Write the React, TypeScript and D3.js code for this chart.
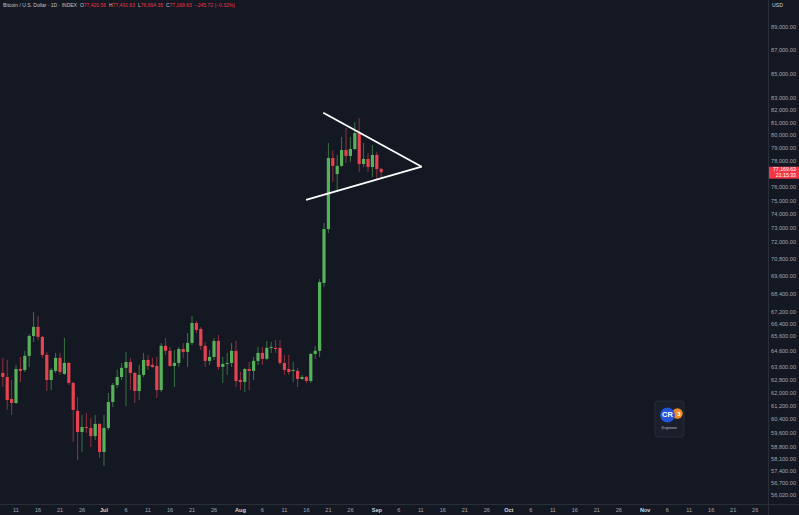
import React from "react";
import * as d3 from "d3";

const dates = [
  "2024-06-07","2024-06-08","2024-06-09","2024-06-10","2024-06-11","2024-06-12","2024-06-13","2024-06-14","2024-06-15","2024-06-16",
  "2024-06-17","2024-06-18","2024-06-19","2024-06-20","2024-06-21","2024-06-22","2024-06-23","2024-06-24","2024-06-25","2024-06-26",
  "2024-06-27","2024-06-28","2024-06-29","2024-06-30",
  "2024-07-01","2024-07-02","2024-07-03","2024-07-04","2024-07-05","2024-07-06","2024-07-07","2024-07-08","2024-07-09","2024-07-10",
  "2024-07-11","2024-07-12","2024-07-13","2024-07-14","2024-07-15","2024-07-16","2024-07-17","2024-07-18","2024-07-19","2024-07-20",
  "2024-07-21","2024-07-22","2024-07-23","2024-07-24","2024-07-25","2024-07-26","2024-07-27","2024-07-28","2024-07-29","2024-07-30","2024-07-31",
  "2024-08-01","2024-08-02","2024-08-03","2024-08-04","2024-08-05","2024-08-06","2024-08-07","2024-08-08","2024-08-09","2024-08-10",
  "2024-08-11","2024-08-12","2024-08-13","2024-08-14","2024-08-15","2024-08-16","2024-08-17","2024-08-18","2024-08-19","2024-08-20",
  "2024-08-21","2024-08-22","2024-08-23","2024-08-24","2024-08-25","2024-08-26","2024-08-27","2024-08-28","2024-08-29","2024-08-30","2024-08-31",
  "2024-09-01","2024-09-02"
];

const opens = [
  60820,63270,63020,61660,61420,63520,63460,64350,65630,66220,65570,64410,62830,63400,64220,63210,63900,62650,60940,59680,59980,59920,59440,60160,
  58510,59920,61480,62520,63020,63590,63960,63270,62150,63150,64090,63780,63710,62210,64990,64670,63710,63900,64790,64600,65180,66480,66090,64990,64030,64280,65310,63650,63840,63900,64670,
  62830,62710,63520,63400,64030,64540,64160,64860,64860,64860,63900,63520,63400,63400,62900,63020,62770,64470,64670,69160,72950,78260,77030,77650,78880,78420,78960,80220,77800,78190,77570,
  78500,77420.56
];
const highs = [
  63590,64220,64090,62830,63780,64280,64670,65760,67200,66940,65630,64600,63590,64540,64540,65500,63960,62710,61780,60700,60820,60520,60700,60220,
  60700,62030,62650,63460,63900,64600,64220,63330,63780,64540,64410,64220,64280,65180,65500,64920,64730,64920,65180,65820,66940,66610,66220,65240,64730,65500,65700,64280,64540,65180,65310,
  63330,63590,63960,64280,64920,64920,65310,65240,65370,65370,64410,64410,63960,63590,63150,63080,64540,64990,69430,73390,79430,78880,78500,79910,80620,79910,81100,81420,79430,78650,79270,
  78730,77491.63
];
const lows = [
  60640,62400,61000,60700,61360,62710,63330,63650,65240,65370,64220,62150,62210,63270,63150,63150,62520,59090,58050,58520,59620,58800,59210,58170,
  57710,59800,61180,62330,62830,61240,62210,61420,61600,63020,63460,63590,61720,62090,64410,63650,62400,63650,64220,63650,65050,65820,64730,63650,63780,64090,63460,62650,63150,63650,62400,
  62210,62090,62210,62830,63780,63780,64090,64540,64540,63780,63150,63150,62710,62400,62830,62650,62650,64160,64280,68890,72660,76430,75820,77570,77880,77960,78880,77190,77570,77190,76800,
  76650,76694.35
];
const closes = [
  63330,63020,61600,61420,63520,63400,64350,65630,66220,65570,64410,62830,63460,64220,63330,63900,62650,61000,59680,59980,59920,59440,60160,58510,
  59920,61480,62520,63020,63590,63960,63270,62150,63150,64090,63710,63650,62210,64990,64670,63710,63900,64790,64600,65180,66480,66020,64990,64030,64280,65310,63650,63840,63900,64670,62770,
  62710,63520,63400,64030,64540,64160,64860,64920,64790,63900,63460,63330,63460,62900,63020,62770,64470,64670,69220,72950,78260,77650,77650,78880,78420,78960,80220,77800,78190,77570,78500,
  77415.35,77169.63
];

const yTicks = [89000,87000,85000,83000,82000,81000,80000,79000,78000,76000,75000,74000,73000,72000,70800,69600,68400,67200,66400,65600,64600,63600,62800,62000,61200,60400,59600,58800,58100,57400,56700,56020];

const xTickDates = [
  "2024-06-11","2024-06-16","2024-06-21","2024-06-26",
  "2024-07-01","2024-07-06","2024-07-11","2024-07-16","2024-07-21","2024-07-26",
  "2024-08-01","2024-08-06","2024-08-11","2024-08-16","2024-08-21","2024-08-26",
  "2024-09-01","2024-09-06","2024-09-11","2024-09-16","2024-09-21","2024-09-26",
  "2024-10-01","2024-10-06","2024-10-11","2024-10-16","2024-10-21","2024-10-26",
  "2024-11-01","2024-11-06","2024-11-11","2024-11-16","2024-11-21","2024-11-26"
];

const upperTrend = [
  { t: "2024-08-19T20:00:00Z", p: 81850 },
  { t: "2024-09-11T05:00:00Z", p: 77590 },
];
const lowerTrend = [
  { t: "2024-08-15T22:00:00Z", p: 75080 },
  { t: "2024-09-11T05:00:00Z", p: 77590 },
];

const title = "Bitcoin / U.S. Dollar · 1D · INDEX";
const lastClose = 77169.63;
const prevClose = 77415.35;
const countdown = "21:15:33";

const W = 799, H = 515;
const PLOT_R = 768, PLOT_B = 504;
const BG = "#141823";
const UP = "#56b15a";
const DOWN = "#e5434f";
const GRID = "#2a2e39";
const TXT = "#a3a6af";
const FONT = "'Liberation Sans', Arial, sans-serif";

const parse = (s: string) => new Date(s.length > 10 ? s : s + "T00:00:00Z");

export default function App() {
  const x = d3.scaleUtc()
    .domain([parse("2024-07-01"), parse("2024-11-26")])
    .range([104, 755.2]);
  const y = d3.scaleLog().domain([56020, 89000]).range([496, 28]);

  const candles = dates.map((d, i) => ({
    t: parse(d), o: opens[i], h: highs[i], l: lows[i], c: closes[i],
  }));
  const bw = 3.2;
  const line = d3.line<{ t: string; p: number }>()
    .x((d) => x(parse(d.t)))
    .y((d) => y(d.p));

  const fmt = d3.format(",.2f");
  const ch = lastClose - prevClose;
  const chPct = (ch / prevClose) * 100;
  const neg = (v: number) => (v < 0 ? "\u2212" + fmt(Math.abs(v)) : fmt(v));
  const last = candles[candles.length - 1];
  const monthFmt = d3.utcFormat("%b");

  return (
    <svg width={W} height={H} style={{ position: "fixed", left: 0, top: 0, background: BG }} fontFamily={FONT}>
      <defs>
        <clipPath id="plot"><rect x={0} y={0} width={PLOT_R} height={PLOT_B} /></clipPath>
      </defs>
      <rect x={0} y={0} width={W} height={H} fill={BG} />
      <g clipPath="url(#plot)">
        {candles.map((d, i) => {
          const up = d.c >= d.o;
          const col = up ? UP : DOWN;
          const cx = x(d.t);
          const top = y(Math.max(d.o, d.c));
          const bot = y(Math.min(d.o, d.c));
          return (
            <g key={i}>
              <line x1={cx} x2={cx} y1={y(d.h)} y2={y(d.l)} stroke={col} strokeOpacity={0.6} strokeWidth={1} />
              <rect x={cx - bw / 2} y={top} width={bw} height={Math.max(1, bot - top)} fill={col} />
            </g>
          );
        })}
        <path d={line(upperTrend) || ""} stroke="#ffffff" strokeWidth={1.8} fill="none" />
        <path d={line(lowerTrend) || ""} stroke="#ffffff" strokeWidth={1.8} fill="none" />
      </g>

      {/* axes borders */}
      <line x1={PLOT_R + 0.5} x2={PLOT_R + 0.5} y1={0} y2={H} stroke={GRID} strokeWidth={1} />
      <line x1={0} x2={W} y1={PLOT_B + 0.5} y2={PLOT_B + 0.5} stroke={GRID} strokeWidth={1} />

      {/* y axis labels */}
      {yTicks.map((v) => (
        <text key={v} x={796} y={y(v)} textAnchor="end" dominantBaseline="middle" fontSize={5.6} fill={TXT}>
          {fmt(v)}
        </text>
      ))}
      <text x={772} y={5.5} dominantBaseline="middle" fontSize={5.2} fill="#d1d4dc">USD</text>

      {/* price label */}
      <rect x={PLOT_R + 1} y={y(last.c) - 5.5} width={W - PLOT_R - 1} height={12} fill="#f23645" />
      <text x={796} y={y(last.c) - 2.3} textAnchor="end" dominantBaseline="middle" fontSize={5.2} fill="#ffffff">{fmt(lastClose)}</text>
      <text x={796} y={y(last.c) + 3.3} textAnchor="end" dominantBaseline="middle" fontSize={5.2} fill="#ffffff">{countdown}</text>

      {/* x axis labels */}
      {xTickDates.map((s) => {
        const t = parse(s);
        const isMonth = t.getUTCDate() === 1;
        return (
          <text key={s} x={x(t)} y={511} textAnchor="middle" dominantBaseline="middle"
            fontSize={5.6} fontWeight={isMonth ? 700 : 400} fill={isMonth ? "#d1d4dc" : TXT}>
            {isMonth ? monthFmt(t) : t.getUTCDate()}
          </text>
        );
      })}

      {/* header */}
      <text x={3} y={5.5} dominantBaseline="middle" fontSize={5} fill="#c3c6ce">
        <tspan>{title}</tspan>
        <tspan dx={3} fill="#c3c6ce">O</tspan><tspan fill="#f23645">{fmt(last.o)}</tspan>
        <tspan dx={3} fill="#c3c6ce">H</tspan><tspan fill="#f23645">{fmt(last.h)}</tspan>
        <tspan dx={3} fill="#c3c6ce">L</tspan><tspan fill="#f23645">{fmt(last.l)}</tspan>
        <tspan dx={3} fill="#c3c6ce">C</tspan><tspan fill="#f23645">{fmt(last.c)}</tspan>
        <tspan dx={3} fill="#f23645">{neg(ch)} ({chPct < 0 ? "\u2212" : ""}{Math.abs(chPct).toFixed(2)}%)</tspan>
      </text>

      {/* watermark logo */}
      <g>
        <rect x={655} y={401} width={29} height={36} rx={3} fill="#1b1f2b" stroke="#2c3040" strokeWidth={0.8} />
        <circle cx={677.5} cy={413.5} r={5.2} fill="#f0892b" />
        <text x={678.8} y={414} textAnchor="middle" dominantBaseline="middle" fontSize={6} fontWeight={700} fill="#ffffff">3</text>
        <circle cx={667.5} cy={415} r={7.4} fill="#2455d8" />
        <text x={667.5} y={415.5} textAnchor="middle" dominantBaseline="middle" fontSize={7.5} fontWeight={700} fill="#ffffff">CR</text>
        <text x={669} y={428.5} textAnchor="middle" dominantBaseline="middle" fontSize={2.6} fill="#c9ccd4">@cryptorover</text>
      </g>
    </svg>
  );
}
